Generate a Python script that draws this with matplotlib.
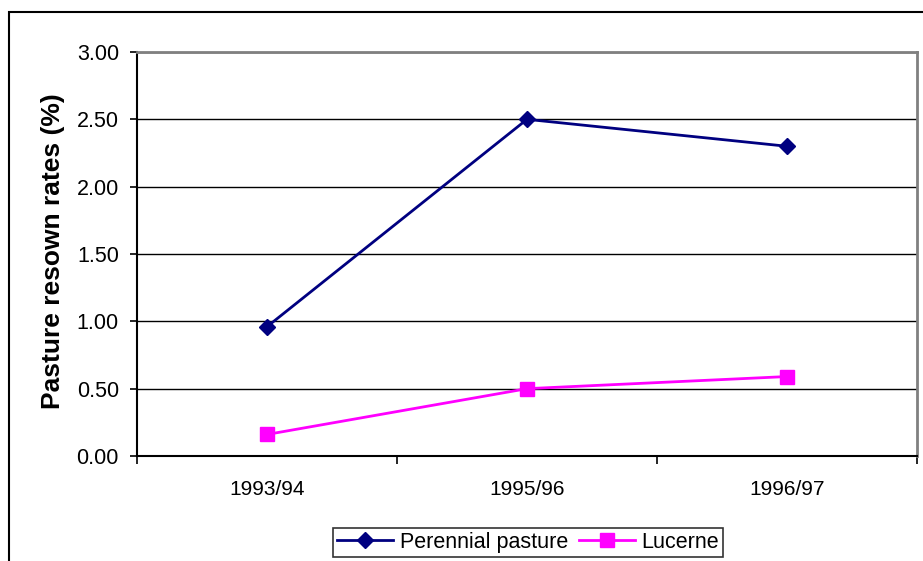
import matplotlib.pyplot as plt
from matplotlib.patches import Rectangle

plt.rcParams['font.family'] = ['Liberation Sans', 'DejaVu Sans']

# Pasture resowing rates by season
seasons = ["1993/94", "1995/96", "1996/97"]
perennial = [0.96, 2.50, 2.30]
lucerne = [0.16, 0.50, 0.59]
yticks = [0.0, 0.5, 1.0, 1.5, 2.0, 2.5, 3.0]

W, H = 923, 561
fig = plt.figure(figsize=(W / 100, H / 100), dpi=100)

# outer chart-area frame (runs off the right and bottom edges)
fig.patches.append(Rectangle((9 / W, -0.1), 1.2, 1 - 12 / H + 0.1,
                             transform=fig.transFigure, fill=False,
                             edgecolor="black", linewidth=1.5, zorder=0))

ax = fig.add_axes([137 / W, (H - 456) / H, 780 / W, 404 / H])

x = [i + 0.5 for i in range(len(seasons))]
ax.plot(x, perennial, color="#000080", lw=2, marker="D", ms=8,
        label="Perennial pasture", zorder=3)
ax.plot(x, lucerne, color="#FF00FF", lw=2, marker="s", ms=10,
        label="Lucerne", zorder=3)

ax.set_xlim(0, len(seasons))
ax.set_ylim(0, 3)
ax.set_yticks(yticks)
ax.set_yticklabels([f"{v:.2f}" for v in yticks])
ax.set_xticks(range(len(seasons) + 1))
ax.set_xticklabels([])
ax.set_xticks(x, minor=True)
ax.set_xticklabels(seasons, minor=True)

ax.yaxis.grid(True, color="black", lw=1)
ax.set_axisbelow(True)

ax.tick_params(axis="y", length=5, width=1.2, direction="out", pad=8,
               labelsize=15.5)
ax.tick_params(axis="x", which="major", length=6, width=1.2, direction="out")
ax.tick_params(axis="x", which="minor", length=0, pad=17, labelsize=15)

for side in ("left", "bottom"):
    ax.spines[side].set_color("black")
    ax.spines[side].set_linewidth(1.5)
for side in ("top", "right"):
    ax.spines[side].set_color("#808080")
    ax.spines[side].set_linewidth(2)

# y-axis title, placed in figure pixels
fig.text(53 / W, 1 - 251 / H, "Pasture resown rates (%)", rotation=90,
         ha="center", va="center", fontsize=19, fontweight="bold")

leg = fig.legend(loc="center", bbox_to_anchor=(528 / W, 1 - 542.5 / H),
                 ncol=2, fontsize=15.5, frameon=True, fancybox=False,
                 edgecolor="black", handlelength=2.6, columnspacing=0.5,
                 handletextpad=0.3, borderpad=0.2, borderaxespad=0)
leg.get_frame().set_linewidth(1.2)

fig.savefig("out.png", dpi=100)
